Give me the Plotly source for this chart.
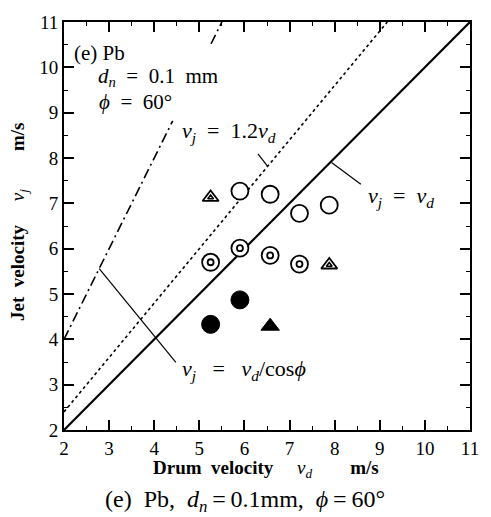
import plotly.graph_objects as go

# ---- data ----
open_x = [5.9, 6.57, 7.22, 7.88]
open_y = [7.27, 7.2, 6.78, 6.96]

ring_x = [5.25, 5.9, 6.57, 7.22]
ring_y = [5.70, 6.01, 5.85, 5.66]

tri_x = [5.25, 7.88]
tri_y = [7.13, 5.64]

fill_x = [5.25, 5.9]
fill_y = [4.33, 4.87]

ftri_x = [6.57]
ftri_y = [4.29]

# theoretical lines  v_j = k * v_d
line_k = {"vd": 1.0, "1.2vd": 1.2, "cos": 2.0}
solid_x = [2, 11]
dot_x = [2, 11 / 1.2]
dd_x_low = [2, 4.41]
dd_x_high = [5.26, 5.5]

# leader lines
lead_12_x = [6.30, 6.51]
lead_12_y = [8.09, 7.82]
lead_vd_x = [7.93, 8.58]
lead_vd_y = [7.90, 7.42]
lead_cos_x = [2.78, 4.48]
lead_cos_y = [5.56, 3.49]

FONT = "Times New Roman, Liberation Serif, DejaVu Serif, serif"
NB = "\u00a0"
fig = go.Figure()

def line(xs, ys, dash="solid", width=2):
    fig.add_trace(go.Scatter(x=xs, y=ys, mode="lines",
                             line=dict(color="black", width=width, dash=dash),
                             hoverinfo="skip", showlegend=False))

line(solid_x, [line_k["vd"] * v for v in solid_x], "solid", 2.2)
line(dot_x, [line_k["1.2vd"] * v for v in dot_x], "dot", 1.6)
line(dd_x_low, [line_k["cos"] * v for v in dd_x_low], "10px,4px,2px,4px", 1.6)
line(dd_x_high, [line_k["cos"] * v for v in dd_x_high], "10px,4px,2px,4px", 1.6)
line(lead_12_x, lead_12_y, "solid", 1.2)
line(lead_vd_x, lead_vd_y, "solid", 1.2)
line(lead_cos_x, lead_cos_y, "solid", 1.2)

def marks(xs, ys, symbol, size, lw=1.6, color="black"):
    fig.add_trace(go.Scatter(x=xs, y=ys, mode="markers",
                             marker=dict(symbol=symbol, size=size, color=color,
                                         line=dict(color="black", width=lw)),
                             showlegend=False))

marks(open_x, open_y, "circle", 17, 1.8, "white")
marks(ring_x, ring_y, "circle", 17, 1.8, "white")
marks(ring_x, ring_y, "circle-open", 6, 1.8)
marks(tri_x, tri_y, "triangle-up", 14, 1.8, "white")
marks(tri_x, tri_y, "triangle-up-open", 5, 1.6)
marks(fill_x, fill_y, "circle", 18, 1, "black")
marks(ftri_x, ftri_y, "triangle-up", 16, 1, "black")

def v(sub):
    return "<i>v</i><sub><i>%s</i></sub>" % sub

EQ = NB * 3 + "=" + NB * 3
texts = [
    (2.17, 10.32, "(e) Pb", 21),
    (2.72, 9.78, "<i>d</i><sub><i>n</i></sub>" + NB * 2 + "=" + NB * 2 + "0.1" + NB * 2 + "mm", 21),
    (2.74, 9.24, "<i>ϕ</i>" + NB * 2 + "=" + NB * 2 + "60°", 21),
    (4.57, 8.57, v("j") + NB * 2 + "=" + NB * 2 + "1.2" + v("d"), 22),
    (8.70, 7.15, v("j") + NB * 2 + "=" + NB * 2 + v("d"), 22),
    (4.57, 3.33, v("j") + EQ + v("d") + "/cos<i>ϕ</i>", 22),
]
for x, y, t, s in texts:
    fig.add_annotation(x=x, y=y, text=t, showarrow=False,
                       xanchor="left", yanchor="middle",
                       font=dict(family=FONT, size=s, color="black"))

fig.add_annotation(xref="paper", yref="paper", x=0.498, y=0, yshift=-39,
                   text="<b>Drum" + NB * 2 + "velocity</b>" + NB * 5 + v("d") + NB * 8 + "<b>m/s</b>",
                   showarrow=False, xanchor="center", yanchor="middle",
                   font=dict(family=FONT, size=19, color="black"))
fig.add_annotation(xref="paper", yref="paper", x=0, y=0.51, xshift=-45,
                   text="<b>Jet" + NB * 2 + "velocity</b>" + NB * 5 + v("j") + NB * 8 + "<b>m/s</b>",
                   showarrow=False, xanchor="center", yanchor="middle", textangle=-90,
                   font=dict(family=FONT, size=19, color="black"))
fig.add_annotation(xref="paper", yref="paper", x=0.445, y=0, yshift=-71,
                   text="(e)" + NB * 2 + "Pb," + NB * 2 + "<i>d</i><sub><i>n</i></sub>\u2009=\u20090.1mm,"
                        + NB * 2 + "<i>ϕ</i>\u2009=\u200960°",
                   showarrow=False, xanchor="center", yanchor="middle",
                   font=dict(family=FONT, size=24, color="black"))

axis = dict(range=[2, 11], dtick=1, tick0=2, ticks="inside", ticklen=10, tickwidth=1.5,
            tickcolor="black", showline=True, linecolor="black", linewidth=2,
            mirror="ticks", showgrid=False, zeroline=False,
            tickfont=dict(family=FONT, size=19, color="black"),
            minor=dict(dtick=0.5, tick0=2, ticks="inside", ticklen=4, tickwidth=1.2,
                       tickcolor="black", showgrid=False))

xaxis = dict(axis, ticklabelstandoff=0)
yaxis = dict(axis)

fig.update_layout(
    width=491, height=517,
    margin=dict(l=64, r=12, t=16, b=87),
    paper_bgcolor="white", plot_bgcolor="white",
    font=dict(family=FONT),
    xaxis=xaxis, yaxis=yaxis,
    showlegend=False,
)
fig.write_html("out.html")
